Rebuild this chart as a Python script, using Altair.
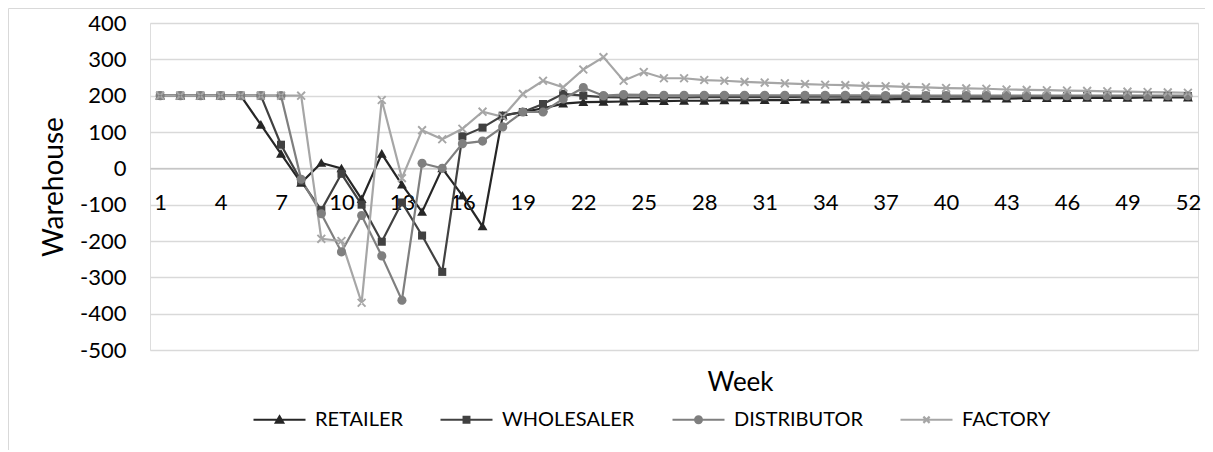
import altair as alt
import pandas as pd

weeks = list(range(1, 53))
series_names = ["RETAILER", "WHOLESALER", "DISTRIBUTOR", "FACTORY"]
series_colors = ["#262626", "#414141", "#7f7f7f", "#a6a6a6"]

retailer = [200, 200, 200, 200, 200, 120, 40, -40, 15, 0,
            -85, 40, -45, -120, 0, -75, -160, 145, 155, 165,
            178, 182, 183, 184, 185, 185, 186, 186, 187, 187,
            188, 188, 189, 189, 190, 190, 190, 191, 191, 191,
            192, 192, 192, 193, 193, 193, 194, 194, 194, 195,
            195, 195]
wholesaler = [200, 200, 200, 200, 200, 200, 65, -35, -115, -15,
              -100, -202, -94, -185, -285, 88, 112, 145, 155, 177,
              205, 200, 196, 195, 195, 195, 195, 196, 196, 196,
              196, 196, 197, 197, 197, 197, 197, 197, 198, 198,
              198, 198, 198, 198, 198, 199, 199, 199, 199, 199,
              199, 199]
distributor = [200, 200, 200, 200, 200, 200, 200, -30, -125, -230,
               -130, -241, -363, 14, 0, 68, 75, 114, 155, 155,
               191, 222, 200, 203, 202, 201, 201, 201, 201, 201,
               201, 201, 201, 201, 201, 201, 200, 200, 200, 200,
               200, 200, 200, 200, 200, 200, 200, 200, 200, 200,
               200, 200]
factory = [200, 200, 200, 200, 200, 200, 200, 200, -194, -200,
           -370, 188, -27, 105, 80, 109, 156, 142, 205, 241,
           223, 272, 306, 241, 265, 248, 248, 243, 241, 238,
           236, 234, 232, 230, 229, 227, 226, 224, 223, 221,
           220, 219, 217, 216, 215, 214, 213, 212, 211, 210,
           209, 208]

y_ticks = [-500, -400, -300, -200, -100, 0, 100, 200, 300, 400]
x_ticks = [1, 4, 7, 10, 13, 16, 19, 22, 25, 28, 31, 34, 37, 40, 43, 46, 49, 52]

rows = []
for name, vals in zip(series_names, [retailer, wholesaler, distributor, factory]):
    for w, v in zip(weeks, vals):
        rows.append({"week": w, "value": v, "series": name})
df = pd.DataFrame(rows)
legend_df = pd.DataFrame({"series": series_names})

S = 2704  # symbol area -> 1 unit = 26px


def x_path(a, d):
    return (f"M{-a+d},{-a-d}L{a+d},{a-d}L{a-d},{a+d}L{-a-d},{-a+d}Z"
            f"M{-a+d},{a+d}L{a+d},{-a+d}L{a-d},{-a-d}L{-a-d},{a-d}Z")


tri = "M0,-0.18L0.19,0.15L-0.19,0.15Z"
sq = "M-0.155,-0.155H0.155V0.155H-0.155Z"
circ = "M0.175,0A0.175,0.175,0,1,1,-0.175,0A0.175,0.175,0,1,1,0.175,0Z"
xs = x_path(0.15, 0.026)
shapes = [tri, sq, circ, xs]

seg = "M-1,0H1"
leg_shapes = [
    seg + "M0,-0.13L0.14,0.11L-0.14,0.11Z",
    seg + "M-0.11,-0.11H0.11V0.11H-0.11Z",
    seg + "M0.13,0A0.13,0.13,0,1,1,-0.13,0A0.13,0.13,0,1,1,0.13,0Z",
    seg + "M-0.12,-0.12L0.12,0.12M-0.12,0.12L0.12,-0.12",
]

FONT = "Lato"
W, H = 1048, 327
LX, LY = 102, 369

color_scale = alt.Scale(domain=series_names, range=series_colors)

x_axis = alt.Axis(values=x_ticks, grid=False, ticks=False, offset=-181.7,
                  domainColor="#bfbfbf", domainWidth=1.3,
                  labelFont=FONT, labelFontSize=22, labelColor="#000000",
                  labelPadding=24, labelFlush=False, labelOverlap=False,
                  title="Week", titleFont=FONT, titleFontSize=26,
                  titleFontWeight="normal", titleColor="#000000",
                  titleX=590, titleY=214, titleBaseline="middle",
                  titleAnchor="start", titleAlign="center")
y_axis = alt.Axis(values=y_ticks, grid=True, gridColor="#d9d9d9", gridWidth=1.3,
                  ticks=False, domain=False, labelOverlap=False, labelBound=False,
                  labelExpr="datum.value + ''",
                  labelFont=FONT, labelFontSize=22, labelColor="#000000",
                  labelPadding=24,
                  title="Warehouse", titleFont=FONT, titleFontSize=28,
                  titleFontWeight="normal", titleColor="#000000",
                  titleX=-96, titleY=H / 2, titleBaseline="middle",
                  titleAlign="center", titleAngle=270)


def xe():
    return alt.X("week:Q", scale=alt.Scale(domain=[0.5, 52.5], nice=False), axis=x_axis)


def ye():
    return alt.Y("value:Q", scale=alt.Scale(domain=[-500, 400], nice=False), axis=y_axis)


base = alt.Chart(df)

legend_kw = dict(orient="none", legendX=LX, legendY=LY, direction="horizontal",
                 title=None, symbolSize=S, symbolStrokeWidth=2.2,
                 labelFont=FONT, labelFontSize=20, labelColor="#000000",
                 labelOffset=8, columnPadding=33, padding=0, symbolOffset=0)

legend_layer = alt.Chart(legend_df).mark_point(filled=True, size=S, opacity=1).encode(
    x=alt.value(-3000), y=alt.value(-3000),
    stroke=alt.Stroke("series:N", scale=color_scale, legend=alt.Legend(**legend_kw)),
    fill=alt.Fill("series:N", scale=color_scale, legend=alt.Legend(**legend_kw)),
    shape=alt.Shape("series:N", scale=alt.Scale(domain=series_names, range=leg_shapes),
                    legend=alt.Legend(**legend_kw)),
)

lines = base.mark_line(strokeWidth=2.2).encode(
    x=xe(), y=ye(),
    stroke=alt.Stroke("series:N", scale=color_scale, legend=None),
)

point_layers = []
for name, shp in zip(series_names, shapes):
    point_layers.append(
        base.transform_filter(alt.datum.series == name)
        .mark_point(shape=shp, size=S, filled=True, opacity=1, strokeWidth=0)
        .encode(x=xe(), y=ye(),
                fill=alt.Fill("series:N", scale=color_scale, legend=None))
    )

frame_df = pd.DataFrame({"k": [0]})
top_rule = alt.Chart(frame_df).mark_rule(color="#d9d9d9", strokeWidth=1).encode(
    x=alt.value(-141.5), x2=alt.value(1060), y=alt.value(-14.5))
left_rule = alt.Chart(frame_df).mark_rule(color="#d9d9d9", strokeWidth=1).encode(
    x=alt.value(-141.5), y=alt.value(-14.5), y2=alt.value(430))

chart = alt.layer(legend_layer, top_rule, left_rule, lines, *point_layers).properties(
    width=W, height=H,
    autosize=alt.AutoSizeParams(type="none"),
    padding={"left": 142, "top": 15, "right": 7, "bottom": 100},
).configure_view(stroke="#c4c4c4", strokeWidth=1.3).configure(background="#ffffff")

chart.save("out.html", embed_options={"renderer": "svg", "actions": False})
